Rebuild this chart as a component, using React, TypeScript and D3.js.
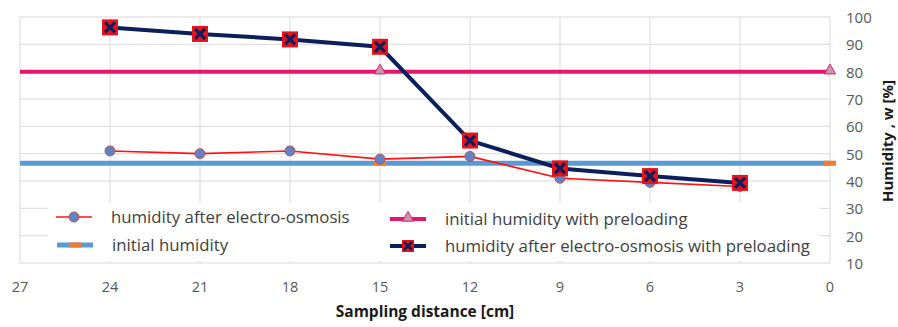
import * as d3 from "d3";
import { useEffect, useRef } from "react";

const W = 898;
const H = 327;
const plot = { left: 20, right: 830, top: 17, bottom: 263 };

// sampling distance [cm]
const distances = [24, 21, 18, 15, 12, 9, 6, 3];
const humidityAfter = [51, 50, 51, 48, 49, 41, 39.5, 38];
const humidityAfterPreload = [96.2, 93.8, 91.8, 89.1, 54.8, 44.6, 41.8, 39.3];
const initialX = [15, 0];
const initialHumidity = [46.5, 46.5];
const initialPreload = [80, 80];
const xTicks = [27, 24, 21, 18, 15, 12, 9, 6, 3, 0];
const yTicks = [10, 20, 30, 40, 50, 60, 70, 80, 90, 100];

const FONT = "'Open Sans', sans-serif";
const RED = "#ff1010";
const NAVY = "#0c1f5a";
const PINK = "#e3176f";
const BLUE = "#5b9bd5";
const ORANGE = "#ed7d31";

function drawChart(el: SVGSVGElement) {
  const svg = d3.select(el);
  svg.selectAll("*").remove();

  const x = d3.scaleLinear().domain([27, 0]).range([plot.left, plot.right]);
  const y = d3.scaleLinear().domain([10, 100]).range([plot.bottom, plot.top]);

  // grid
  const grid = svg.append("g").attr("stroke", "#d9d9d9").attr("stroke-width", 1);
  grid
    .selectAll("line.h")
    .data(yTicks)
    .enter()
    .append("line")
    .attr("x1", plot.left)
    .attr("x2", plot.right)
    .attr("y1", (d) => y(d))
    .attr("y2", (d) => y(d));
  grid
    .selectAll("line.v")
    .data(xTicks)
    .enter()
    .append("line")
    .attr("x1", (d) => x(d))
    .attr("x2", (d) => x(d))
    .attr("y1", plot.top)
    .attr("y2", plot.bottom);

  // axis labels
  svg
    .append("g")
    .selectAll("text")
    .data(yTicks)
    .enter()
    .append("text")
    .attr("x", 846)
    .attr("y", (d) => y(d) + 6)
    .attr("font-family", FONT)
    .attr("font-size", 15)
    .attr("fill", "#595959")
    .text((d) => d);
  svg
    .append("g")
    .selectAll("text")
    .data(xTicks)
    .enter()
    .append("text")
    .attr("x", (d) => x(d))
    .attr("y", 292)
    .attr("text-anchor", "middle")
    .attr("font-family", FONT)
    .attr("font-size", 14.5)
    .attr("fill", "#595959")
    .text((d) => d);

  svg
    .append("text")
    .attr("x", 425)
    .attr("y", 317)
    .attr("text-anchor", "middle")
    .attr("font-family", FONT)
    .attr("font-size", 15.5)
    .attr("font-weight", "bold")
    .attr("fill", "#1a1a1a")
    .text("Sampling distance [cm]");
  svg
    .append("text")
    .attr("transform", "translate(893,141) rotate(-90)")
    .attr("text-anchor", "middle")
    .attr("font-family", FONT)
    .attr("font-size", 15)
    .attr("font-weight", "bold")
    .attr("fill", "#1a1a1a")
    .text("Humidity , w [%]");

  // constant series span the whole axis
  const flat = (vals: number[], color: string, w: number) =>
    svg
      .append("line")
      .attr("x1", x(27))
      .attr("x2", x(0))
      .attr("y1", y(vals[0]))
      .attr("y2", y(vals[0]))
      .attr("stroke", color)
      .attr("stroke-width", w);

  flat(initialHumidity, BLUE, 5);
  svg
    .append("g")
    .selectAll("rect")
    .data(initialX)
    .enter()
    .append("rect")
    .attr("x", (d) => x(d) - 6)
    .attr("y", (_, i) => y(initialHumidity[i]) - 2.5)
    .attr("width", 12)
    .attr("height", 5)
    .attr("fill", ORANGE);

  flat(initialPreload, PINK, 4);
  const tri = d3.symbol().type(d3.symbolTriangle).size(55);
  svg
    .append("g")
    .selectAll("path")
    .data(initialX)
    .enter()
    .append("path")
    .attr("d", tri)
    .attr("transform", (d, i) => `translate(${x(d)},${y(initialPreload[i]) - 1})`)
    .attr("fill", "#c995ae")
    .attr("stroke", PINK)
    .attr("stroke-width", 1);

  const line = d3
    .line<number>()
    .x((_, i) => x(distances[i]))
    .y((d) => y(d));

  svg
    .append("path")
    .attr("d", line(humidityAfter))
    .attr("fill", "none")
    .attr("stroke", RED)
    .attr("stroke-width", 1.6);
  svg
    .append("g")
    .selectAll("circle")
    .data(humidityAfter)
    .enter()
    .append("circle")
    .attr("cx", (_, i) => x(distances[i]))
    .attr("cy", (d) => y(d))
    .attr("r", 5)
    .attr("fill", "#5f83c4")
    .attr("stroke", "#c0504d")
    .attr("stroke-width", 1);

  svg
    .append("path")
    .attr("d", line(humidityAfterPreload))
    .attr("fill", "none")
    .attr("stroke", NAVY)
    .attr("stroke-width", 4);
  const sq = svg
    .append("g")
    .selectAll("g")
    .data(humidityAfterPreload)
    .enter()
    .append("g")
    .attr("transform", (d, i) => `translate(${x(distances[i])},${y(d)})`);
  sq.append("rect")
    .attr("x", -8)
    .attr("y", -8)
    .attr("width", 16)
    .attr("height", 16)
    .attr("fill", "#e8121c");
  sq.append("path")
    .attr("d", "M-5,-5L5,5M5,-5L-5,5")
    .attr("stroke", NAVY)
    .attr("stroke-width", 3.2);

  // legend
  const lg = svg.append("g");
  lg.append("rect")
    .attr("x", 48)
    .attr("y", 203)
    .attr("width", 772)
    .attr("height", 58)
    .attr("fill", "white");

  const entry = (lx: number, ly: number, label: string, kind: string) => {
    const g = lg.append("g").attr("transform", `translate(${lx},${ly})`);
    if (kind === "after") {
      g.append("line").attr("x1", 0).attr("x2", 36).attr("stroke", RED).attr("stroke-width", 1.6);
      g.append("circle").attr("cx", 18).attr("r", 5).attr("fill", "#5f83c4").attr("stroke", "#c0504d");
    } else if (kind === "initial") {
      g.append("line").attr("x1", 0).attr("x2", 36).attr("stroke", BLUE).attr("stroke-width", 5);
      g.append("rect").attr("x", 12).attr("y", -2.5).attr("width", 12).attr("height", 5).attr("fill", ORANGE);
    } else if (kind === "preload") {
      g.append("line").attr("x1", 0).attr("x2", 36).attr("stroke", PINK).attr("stroke-width", 4);
      g.append("path").attr("d", tri).attr("transform", "translate(18,-1)").attr("fill", "#c995ae").attr("stroke", PINK);
    } else {
      g.append("line").attr("x1", 0).attr("x2", 36).attr("stroke", NAVY).attr("stroke-width", 4);
      g.append("rect").attr("x", -6).attr("y", -6).attr("width", 12).attr("height", 12).attr("transform", "translate(18,0)").attr("fill", "#e8121c");
      g.append("path").attr("d", "M14,-4L22,4M22,-4L14,4").attr("stroke", NAVY).attr("stroke-width", 2.6);
    }
    g.append("text")
      .attr("x", 55)
      .attr("y", 6)
      .attr("font-family", FONT)
      .attr("font-size", 16.8)
      .attr("fill", "#404040")
      .text(label);
  };
  entry(56, 217, "humidity after electro-osmosis", "after");
  entry(57, 245, "initial humidity", "initial");
  entry(390, 219, "initial humidity with preloading", "preload");
  entry(390, 246, "humidity after electro-osmosis with preloading", "afterPre");
}

export default function App() {
  const ref = useRef<SVGSVGElement>(null);
  useEffect(() => {
    if (ref.current) drawChart(ref.current);
  }, []);
  return (
    <svg
      ref={ref}
      width={W}
      height={H}
      style={{ position: "absolute", left: 0, top: 0, background: "white" }}
    />
  );
}
